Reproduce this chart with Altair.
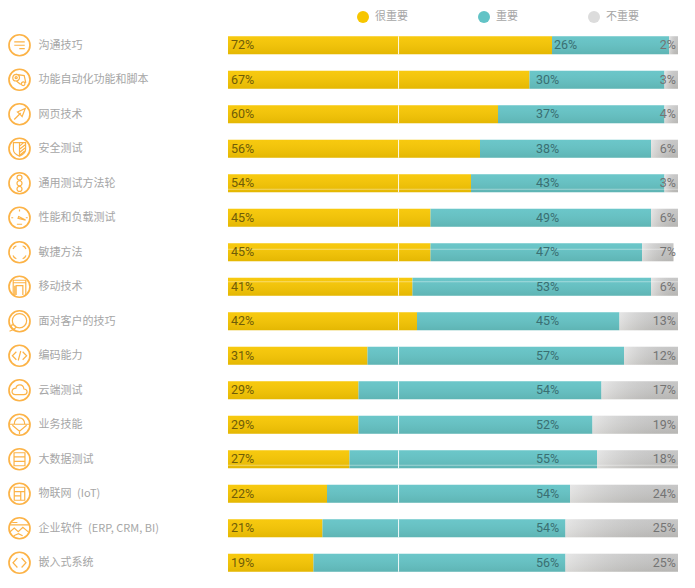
import altair as alt
import pandas as pd

categories = ["沟通技巧", "功能自动化功能和脚本", "网页技术", "安全测试", "通用测试方法轮", "性能和负载测试",
              "敏捷方法", "移动技术", "面对客户的技巧", "编码能力", "云端测试", "业务技能", "大数据测试",
              "物联网\u2002(IoT)", "企业软件\u2002(ERP, CRM, BI)", "嵌入式系统"]
very_important = [72, 67, 60, 56, 54, 45, 45, 41, 42, 31, 29, 29, 27, 22, 21, 19]
important = [26, 30, 37, 38, 43, 49, 47, 53, 45, 57, 54, 52, 55, 54, 54, 56]
not_important = [2, 3, 4, 6, 3, 6, 7, 6, 13, 12, 17, 19, 18, 24, 25, 25]
series_names = ["很重要", "重要", "不重要"]
series_colors = ["#f7c600", "#62c3c6", "#dcdcdc"]

ring_path = "M-1 0A1 1 0 1 1 1 0A1 1 0 1 1 -1 0Z"
icon_paths = [
    "M-.5 -.32H.5M-.5 0H.5M-.02 .32H.5",
    "M-.64 -.2A.32 .32 0 1 1 0 -.2A.32 .32 0 1 1 -.64 -.2M-.42 -.2A.1 .1 0 1 1 -.22 -.2A.1 .1 0 1 1 -.42 -.2M-.32 -.52L.45 -.4L.6 .3M.12 .45L-.3 .12M.18 .38A.17 .17 0 1 1 .52 .38A.17 .17 0 1 1 .18 .38",
    "M-.5 .5L.12 -.12M-.2 -.22L.55 -.55L.25 .22L.03 -.03Z",
    "M-.58 -.58H.58V.1C.58 .45 .22 .62 0 .72C-.22 .62 -.58 .45 -.58 .1ZM0 -.58V.72M.0 -.25L.4 -.58M0 .05L.58 -.4M0 .35L.56 -.1M.05 .6L.5 .2",
    "M-.24 -.54A.24 .24 0 1 1 .24 -.54A.24 .24 0 1 1 -.24 -.54M-.24 0A.24 .24 0 1 1 .24 0A.24 .24 0 1 1 -.24 0M-.24 .54A.24 .24 0 1 1 .24 .54A.24 .24 0 1 1 -.24 .54",
    "M-.08 -.12L.58 .22L-.14 .06ZM-.25 .62H.25M0 -.78V-.6M-.78 0H-.6M.78 0H.6",
    "M-.62 -.3A.7 .7 0 0 1 -.3 -.62M.3 -.62A.7 .7 0 0 1 .62 -.3M.62 .3A.7 .7 0 0 1 .3 .62M-.3 .62A.7 .7 0 0 1 -.62 .3M-.56 -.46L-.44 -.56M.46 -.56L.56 -.44M.56 .44L.44 .56M-.44 .56L-.56 .46",
    "M-.6 .78V-.62H.6V.78M-.6 -.38H.6M-.32 .78V-.1H.32V.78M-.45 -.1V.78",
    "M-.68 -.05A.68 .68 0 1 1 .68 -.05A.68 .68 0 1 1 -.68 -.05M-.95 .95C-.4 .75 -.1 .5 -.6 .35C-.95 .3 -.85 .65 -.4 .85",
    "M-.3 -.38L-.68 0L-.3 .38M.3 -.38L.68 0L.3 .38M.12 -.45L-.12 .45",
    "M-.4 .42H.42C.82 .42 .82 -.12 .42 -.12C.36 -.62 -.26 -.62 -.34 -.2C-.8 -.2 -.84 .42 -.4 .42Z",
    "M-.95 -.05H.95M-.5 -.05C-.5 -.85 .5 -.85 .5 -.05M-.68 .05L0 .62L.68 .05M0 .62V.9",
    "M-.52 -.62H.52V.62H-.52ZM-.52 -.22H.52M-.52 .2H.52",
    "M-.5 -.62H.5V.62H-.5ZM-.5 -.2H.5M.12 -.2V.62M-.5 .2H.12",
    "M-.95 -.32H.95M-.7 -.55H-.2M-.92 .35L-.5 -.02L-.12 .32L.32 -.08L.92 .42M-.55 .72L-.1 .52L.3 .72",
    "M-.2 -.45L-.62 0L-.2 .45M.2 -.45L.62 0L.2 .45",
]
split_marker = [37.9]
streak_rows = [(categories[4], 6), (categories[6], -3), (categories[7], -5), (categories[12], 6)]

rows = []
for c, a, b, n in zip(categories, very_important, important, not_important):
    rows.append({"cat": c, "start": 0, "end": a, "series": series_names[0]})
    rows.append({"cat": c, "start": a, "end": a + b, "series": series_names[1]})
    rows.append({"cat": c, "start": a + b, "end": a + b + n, "series": series_names[2]})
df = pd.DataFrame(rows)

labels = pd.DataFrame({
    "cat": categories, "a": very_important, "b": important, "n": not_important,
    "a_t": [f"{v}%" for v in very_important],
    "b_t": [f"{v}%" for v in important],
    "n_t": [f"{v}%" for v in not_important],
    "b_x": [max(71, v + 3) for v in very_important],
    "zero": [0] * 16, "full": [100] * 16, "split": split_marker * 16,
})

ysc = alt.Scale(domain=categories, paddingInner=0.478, paddingOuter=0.239)
xsc = alt.Scale(domain=[0, 100], nice=False, zero=False)
Y = alt.Y("cat:N", scale=ysc, sort=None, title=None,
          axis=alt.Axis(domain=False, ticks=False, labelAlign="left", labelPadding=190, labelLimit=200,
                        labelFontSize=11, labelColor="#a6a6a6", labelFont="Noto Sans CJK SC", labelOffset=0.5,
                        grid=False))
Yp = alt.Y("cat:N", scale=ysc, sort=None)
X = alt.X("start:Q", scale=xsc, axis=None, title=None)

bars = alt.Chart(df).mark_bar().encode(
    y=Y, x=X, x2="end:Q",
    color=alt.Color("series:N", sort=series_names,
                    scale=alt.Scale(domain=series_names, range=series_colors),
                    legend=alt.Legend(title=None, orient="none", legendX=129, legendY=-17, direction="horizontal",
                                      columns=3, columnPadding=70, symbolType="circle", symbolSize=144,
                                      symbolStrokeWidth=0, labelFontSize=11, labelColor="#a6a6a6",
                                      labelFont="Noto Sans CJK SC", labelOffset=6, padding=0)),
)
shade = alt.Chart(df).mark_bar(color=alt.Gradient(
    gradient="linear", x1=0, y1=0, x2=0, y2=1,
    stops=[alt.GradientStop(offset=0, color="rgba(255,255,255,0.06)"),
           alt.GradientStop(offset=1, color="rgba(60,50,20,0.10)")])).encode(y=Yp, x=X, x2="end:Q")
grey_shade = alt.Chart(df[df.series == series_names[2]]).mark_bar(color=alt.Gradient(
    gradient="linear", x1=0, y1=0, x2=1, y2=0,
    stops=[alt.GradientStop(offset=0, color="rgba(255,255,255,0.25)"),
           alt.GradientStop(offset=1, color="rgba(0,0,0,0.10)")])).encode(y=Yp, x=X, x2="end:Q")

base = alt.Chart(labels)
split = base.mark_tick(orient="vertical", color="#ffffff", thickness=1, size=18, opacity=0.9).encode(
    y=Yp, x=alt.X("split:Q", scale=xsc))

streaks = [
    alt.Chart(pd.DataFrame({"cat": [c], "s": [0], "e": [100]})).mark_rule(
        color="#ffffff", strokeWidth=1, opacity=0.4, yOffset=off).encode(
        y=Yp, x=alt.X("s:Q", scale=xsc), x2="e:Q")
    for c, off in streak_rows
]

txt = dict(font="Roboto", fontSize=12.5, baseline="middle")
t_a = base.mark_text(align="left", dx=3, color="#6f5c08", **txt).encode(
    y=Yp, x=alt.X("zero:Q", scale=xsc), text="a_t:N")
t_b = base.mark_text(align="center", color="#3a6f72", **txt).encode(
    y=Yp, x=alt.X("b_x:Q", scale=xsc), text="b_t:N")
t_n = base.mark_text(align="right", dx=-2, color="#747474", **txt).encode(
    y=Yp, x=alt.X("full:Q", scale=xsc), text="n_t:N")

icons = pd.DataFrame({"cat": categories, "icon": icon_paths, "ring": [ring_path] * 16})
ring = alt.Chart(icons).mark_point(size=441, filled=False, color="#fcb347", strokeWidth=1.7, opacity=1).encode(
    y=Yp, x=alt.value(-208.5),
    shape=alt.Shape("ring:N", scale=alt.Scale(domain=[ring_path], range=[ring_path]), legend=None))
glyph = alt.Chart(icons).mark_point(
    size=441, filled=False, color="#fcb347", strokeWidth=1.2, opacity=1).encode(
    y=Yp, x=alt.value(-208.5),
    shape=alt.Shape("icon:N", scale=alt.Scale(domain=icon_paths, range=icon_paths), legend=None))

chart = alt.layer(bars, shade, grey_shade, split, *streaks, t_a, t_b, t_n, ring, glyph).resolve_scale(
    shape="independent"
).properties(
    width=450, height=552, padding={"left": 220, "top": 20, "right": 0, "bottom": 0},
    autosize=alt.AutoSizeParams(type="none"), background="#ffffff",
).configure_view(stroke=None)

chart.save("out.html", embed_options={"renderer": "svg", "actions": False})
